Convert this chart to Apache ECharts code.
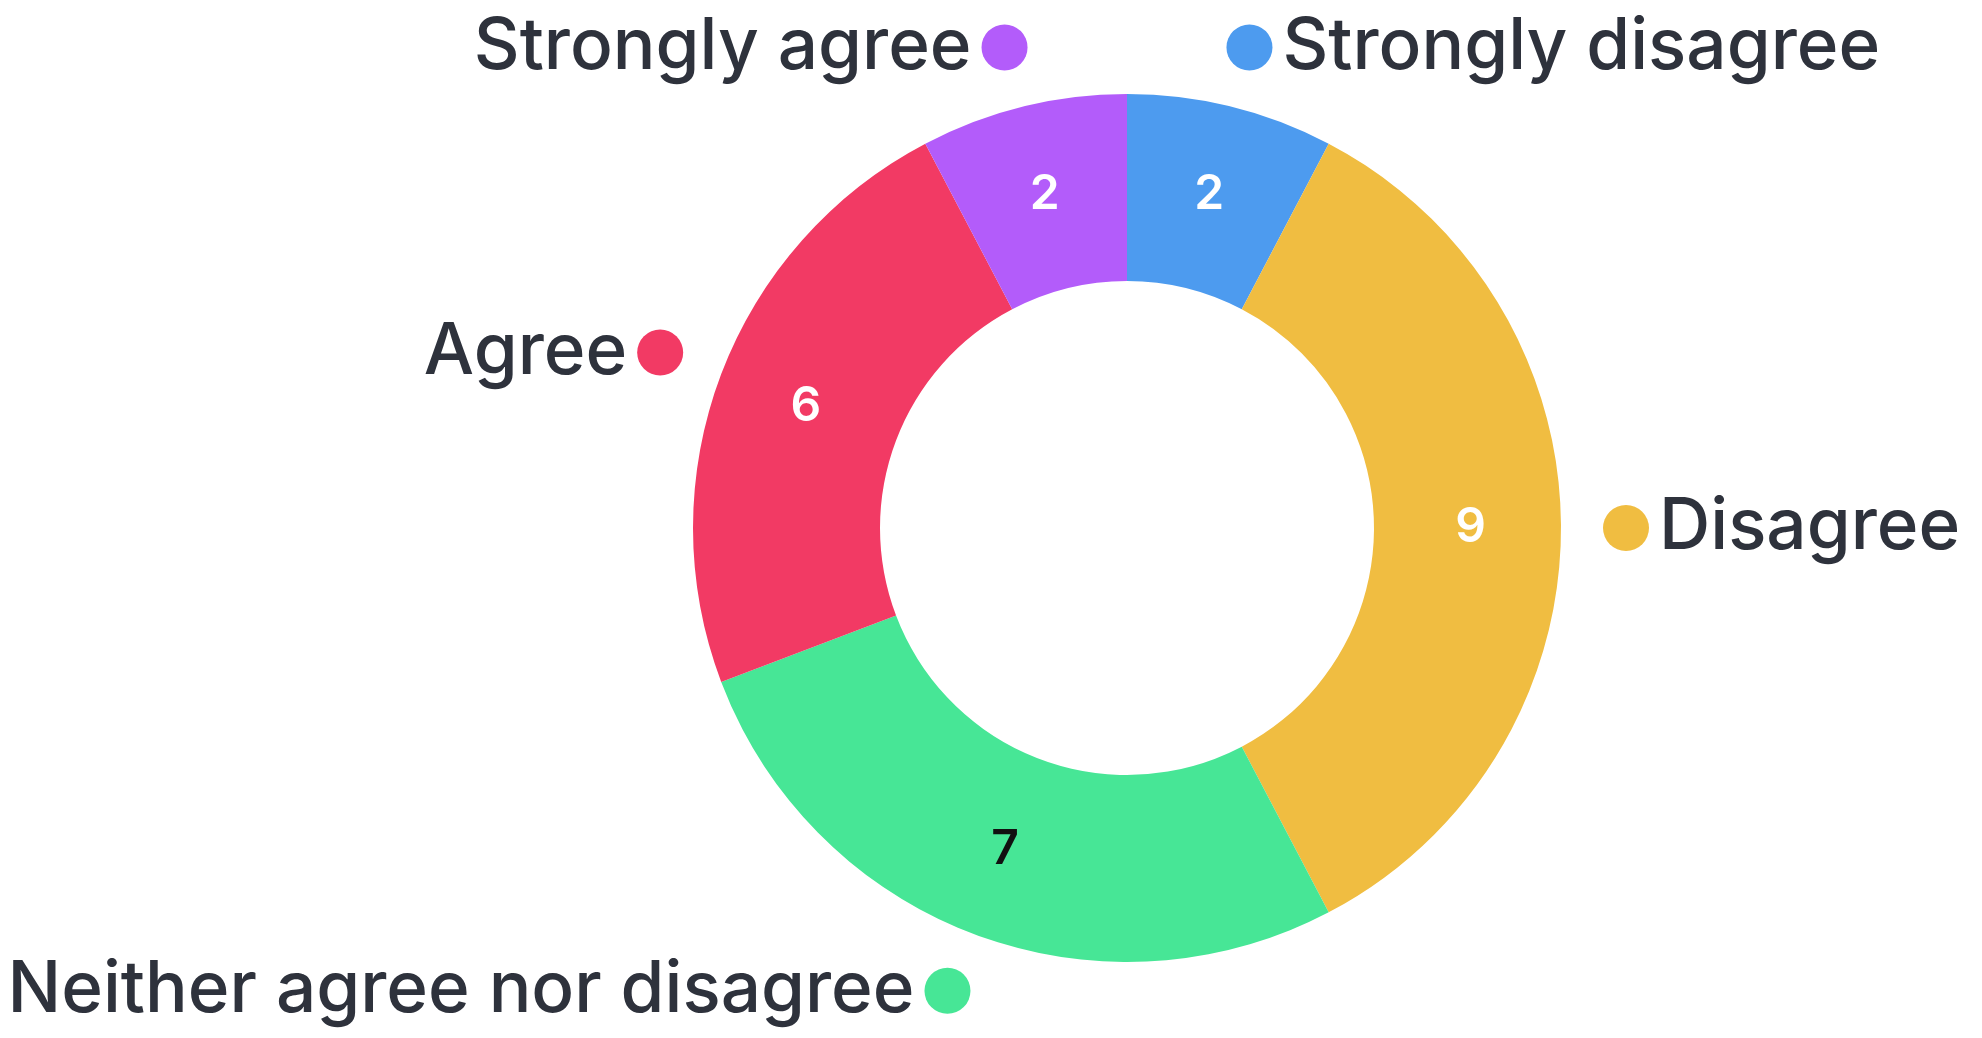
<!DOCTYPE html>
<html>
<head>
<meta charset="utf-8">
<script src="https://cdn.jsdelivr.net/npm/echarts@6/dist/echarts.min.js"></script>
<style>
  html, body { margin: 0; padding: 0; background: #fff; }
  #chart { width: 1982px; height: 1038px; }
</style>
</head>
<body>
<div id="chart"></div>
<script>
// answers, clockwise from 12 o'clock
const categories = ['Strongly disagree', 'Disagree', 'Neither agree nor disagree', 'Agree', 'Strongly agree']
const counts = [2, 9, 7, 6, 2]
const colors = ['#4D9BEF', '#F0BD41', '#47E696', '#F23A64', '#B35CFA']
const valueColors = ['#ffffff', '#ffffff', '#111111', '#ffffff', '#ffffff']

const font = 'Inter, "Noto Sans", sans-serif'
const textColor = '#2E323C'

const total = counts.reduce((a, b) => a + b, 0)
// which side of the ring each outer label sits on
const onRight = []
let acc = 0
counts.forEach(v => {
  const mid = (acc + v / 2) / total * 360
  onRight.push(mid < 180)
  acc += v
})

const rich = {
  name: {
    fontFamily: font,
    fontSize: 71,
    fontWeight: 500,
    color: textColor,
    padding: [0, 10, 0, 10]
  }
}
colors.forEach((c, i) => {
  rich['d' + i] = { width: 46, height: 46, borderRadius: 23, backgroundColor: c }
})

const chart = echarts.init(document.getElementById('chart'))

const center = [1127, 528]
const radius = [247, 434]

chart.setOption({
  animation: false,
  series: [
    {
      type: 'pie',
      center: center,
      radius: radius,
      avoidLabelOverlap: false,
      emphasis: { disabled: true },
      itemStyle: { borderWidth: 0 },
      label: {
        show: true,
        position: 'inside',
        fontFamily: font,
        fontSize: 48,
        fontWeight: 600,
        padding: [10, 0, 0, 0],
        formatter: p => String(p.value)
      },
      labelLine: { show: false },
      data: categories.map((name, i) => ({
        name: name,
        value: counts[i],
        itemStyle: { color: colors[i] },
        label: { color: valueColors[i] }
      }))
    },
    {
      type: 'pie',
      center: center,
      radius: radius,
      silent: true,
      avoidLabelOverlap: false,
      emphasis: { disabled: true },
      itemStyle: { color: 'transparent', borderWidth: 0 },
      label: {
        show: true,
        position: 'outside',
        distanceToLabelLine: -19,
        rich: rich,
        formatter: p => onRight[p.dataIndex]
          ? '{d' + p.dataIndex + '|}{name|' + p.name + '}'
          : '{name|' + p.name + '}{d' + p.dataIndex + '|}'
      },
      labelLine: { show: false, length: 61, length2: 0 },
      data: categories.map((name, i) => ({ name: name, value: counts[i] }))
    }
  ]
})
</script>
</body>
</html>
